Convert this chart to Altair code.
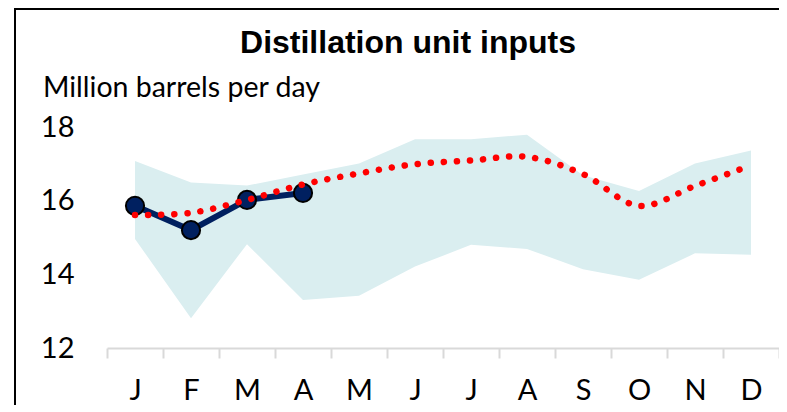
import altair as alt
import pandas as pd

# ---- data ----
months = ["Jan", "Feb", "Mar", "Apr", "May", "Jun", "Jul", "Aug", "Sep", "Oct", "Nov", "Dec"]
range_low = [14.96, 12.81, 14.82, 13.30, 13.42, 14.21, 14.80, 14.69, 14.14, 13.85, 14.57, 14.53]
range_high = [17.08, 16.49, 16.41, 16.71, 17.01, 17.67, 17.67, 17.79, 16.69, 16.26, 17.01, 17.36]
five_year_avg = [15.61, 15.67, 16.02, 16.44, 16.74, 16.99, 17.09, 17.19, 16.72, 15.86, 16.40, 16.96]
current_months = ["Jan", "Feb", "Mar", "Apr"]
current_values = [15.86, 15.20, 16.02, 16.21]
y_ticks = [12, 14, 16, 18]
title_text = "Distillation unit inputs"
unit_text = "Million barrels per day"

band_df = pd.DataFrame({"month": months, "low": range_low, "high": range_high, "avg": five_year_avg})
cur_df = pd.DataFrame({"month": current_months, "value": current_values})

LABEL_FONT = "Lato"

x_enc = alt.X(
    "month:N",
    sort=months,
    scale=alt.Scale(type="band", domain=months, paddingInner=0, paddingOuter=0),
    axis=alt.Axis(
        title=None,
        labelExpr="substring(datum.label, 0, 1)",
        tickBand="extent",
        domainColor="#D9D9D9",
        domainWidth=2,
        tickColor="#D9D9D9",
        tickWidth=2,
        tickSize=10,
        labelPadding=41,
        labelBaseline="alphabetic",
        labelFont=LABEL_FONT,
        labelFontSize=29,
        labelColor="black",
        labelAngle=0,
        grid=False,
    ),
)
y_scale = alt.Scale(domain=[12, 18], nice=False, zero=False)
y_axis = alt.Axis(
    title=None,
    values=y_ticks,
    domain=False,
    ticks=False,
    tickSize=0,
    grid=False,
    labelPadding=33,
    labelFont=LABEL_FONT,
    labelFontSize=29,
    labelColor="black",
)

one_row = pd.DataFrame({"k": [0]})
frame_left = alt.Chart(one_row).mark_rule(color="black", strokeWidth=2).encode(
    x=alt.value(-92), y=alt.value(-119), y2=alt.value(278)
)
frame_top = alt.Chart(one_row).mark_rule(color="black", strokeWidth=2).encode(
    x=alt.value(-93), x2=alt.value(672), y=alt.value(-118)
)

area = alt.Chart(band_df).mark_area(color="#DAEEF0", opacity=1).encode(
    x=x_enc,
    y=alt.Y("low:Q", scale=y_scale, axis=y_axis),
    y2="high:Q",
)

navy_line = alt.Chart(cur_df).mark_line(color="#002060", strokeWidth=6).encode(
    x=x_enc, y=alt.Y("value:Q", scale=y_scale, axis=y_axis)
)
navy_pts = alt.Chart(cur_df).mark_circle(
    color="#002060", stroke="black", strokeWidth=2, size=330, opacity=1
).encode(x=x_enc, y=alt.Y("value:Q", scale=y_scale, axis=y_axis))

avg_line = alt.Chart(band_df).mark_line(
    color="#FF0000", strokeWidth=6.5, strokeDash=[0.1, 13], strokeCap="round",
    interpolate="catmull-rom",
).encode(x=x_enc, y=alt.Y("avg:Q", scale=y_scale, axis=y_axis))

title = alt.Chart(pd.DataFrame({"t": [title_text]})).mark_text(
    align="center", baseline="alphabetic", font="Liberation Sans", fontSize=32,
    fontWeight="bold", color="black",
).encode(x=alt.value(301), y=alt.value(-74), text="t:N")

unit = alt.Chart(pd.DataFrame({"t": [unit_text]})).mark_text(
    align="left", baseline="alphabetic", font=LABEL_FONT, fontSize=28.5, color="black",
).encode(x=alt.value(-64), y=alt.value(-30), text="t:N")

chart = alt.layer(frame_left, frame_top, area, navy_line, navy_pts, avg_line, title, unit).properties(
    width=672,
    height=221,
    padding={"left": 99, "top": 119, "right": 0, "bottom": 57},
    autosize=alt.AutoSizeParams(type="none"),
    background="white",
).configure_view(stroke=None)

chart.save("out.html", embed_options={"renderer": "svg", "actions": False})
